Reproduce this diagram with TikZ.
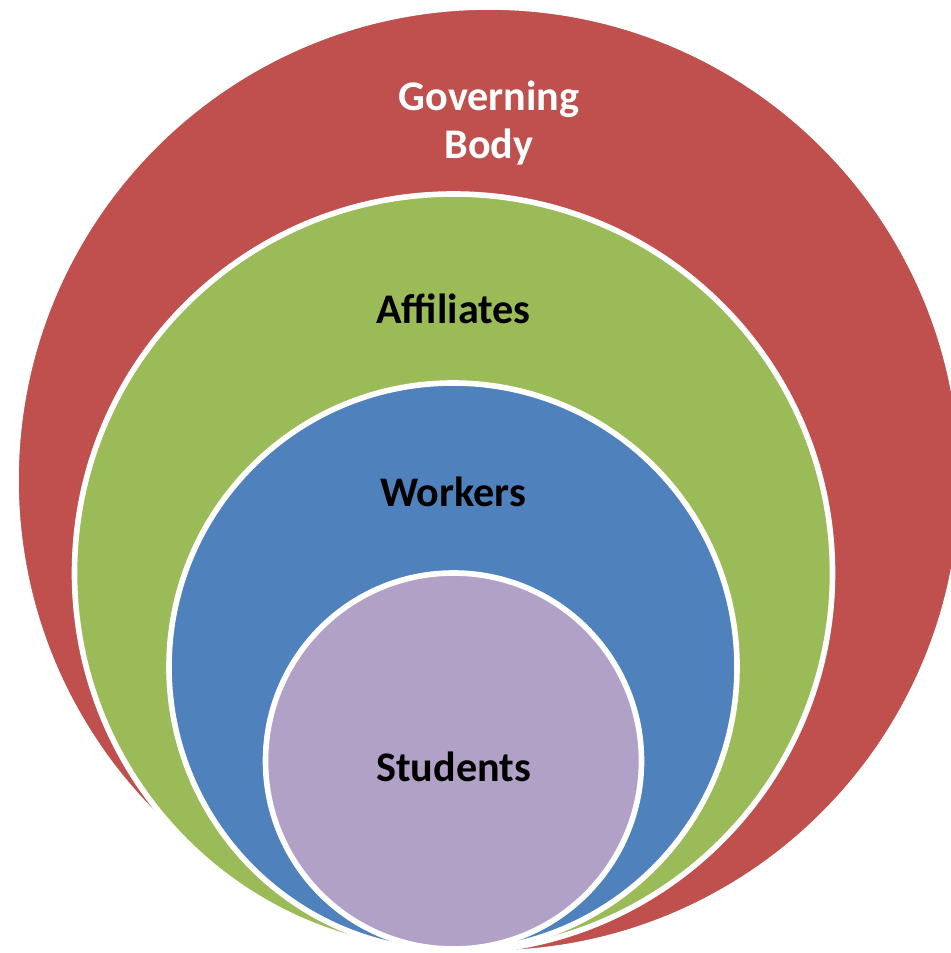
\documentclass[tikz,border=0pt]{standalone}
\usepackage{fontspec}
\setmainfont{Carlito}
\usetikzlibrary{positioning}

\definecolor{govred}{HTML}{C0504D}
\definecolor{affgreen}{HTML}{9BBB59}
\definecolor{wrkblue}{HTML}{4F81BD}
\definecolor{stupurple}{HTML}{B2A1C7}

\begin{document}
\begin{tikzpicture}[
	ring/.style={circle, draw=white, line width=1.6pt, inner sep=0pt, outer sep=0pt},
	tag/.style={font=\bfseries\fontsize{12}{13.4}\selectfont, align=center}]
	\useasboundingbox (0,0) rectangle (9.51,-9.53);
	% stacked circles, outermost first
	\foreach \name/\col/\x/\y/\d in {gov/govred/4.89/-4.80/9.46, aff/affgreen/4.535/-5.73/7.58,
		wrk/wrkblue/4.53/-6.67/5.68, stu/stupurple/4.535/-7.61/3.76}
		\node[ring, fill=\col, minimum size=\d cm] (\name) at (\x,\y) {};
	\node[tag, text=white] (govtxt) at ([yshift=-1.16cm]gov.north) {Governing\\Body};
	\node[tag] (afftxt) at ([yshift=-1.15cm]aff.north) {Affiliates};
	\node[tag] (wrktxt) at ([yshift=-1.09cm]wrk.north) {Workers};
	\node[tag] (stutxt) at ([yshift=-1.94cm]stu.north) {Students};
\end{tikzpicture}
\end{document}
